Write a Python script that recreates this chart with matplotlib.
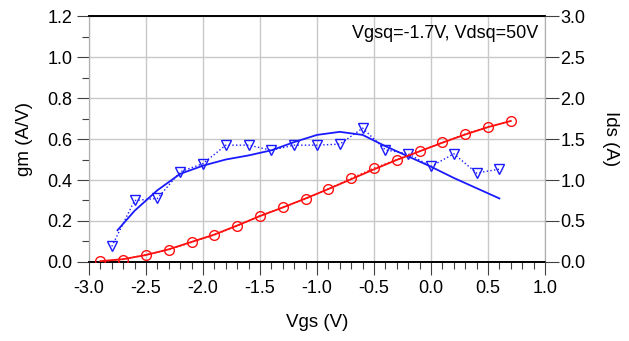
import matplotlib
matplotlib.use("Agg")
import matplotlib.pyplot as plt
from matplotlib.ticker import MultipleLocator

plt.rcParams['font.family'] = ['Liberation Sans', 'DejaVu Sans']

# Drain current (A), measured and simulated
vgs_ids = [-2.9, -2.7, -2.5, -2.3, -2.1, -1.9, -1.7, -1.5, -1.3, -1.1,
           -0.9, -0.7, -0.5, -0.3, -0.1, 0.1, 0.3, 0.5, 0.7]
ids_meas = [0.008, 0.03, 0.09, 0.15, 0.24, 0.33, 0.44, 0.565, 0.665, 0.77,
            0.89, 1.02, 1.145, 1.25, 1.35, 1.46, 1.56, 1.65, 1.72]
ids_sim = [0.01, 0.035, 0.085, 0.155, 0.245, 0.335, 0.445, 0.56, 0.665, 0.775,
           0.89, 1.01, 1.13, 1.245, 1.35, 1.455, 1.555, 1.645, 1.72]

# Transconductance (A/V), measured
vgs_gm_meas = [-2.8, -2.6, -2.4, -2.2, -2.0, -1.8, -1.6, -1.4, -1.2, -1.0,
               -0.8, -0.6, -0.4, -0.2, 0.0, 0.2, 0.4, 0.6]
gm_meas = [0.076, 0.30, 0.31, 0.44, 0.48, 0.57, 0.57, 0.545, 0.57, 0.57,
           0.575, 0.653, 0.547, 0.528, 0.466, 0.528, 0.434, 0.453]

# Transconductance (A/V), simulated
vgs_gm_sim = [-2.75, -2.6, -2.4, -2.2, -2.0, -1.8, -1.6, -1.4, -1.2, -1.0,
              -0.8, -0.6, -0.4, -0.2, 0.0, 0.2, 0.4, 0.6]
gm_sim = [0.155, 0.25, 0.35, 0.43, 0.47, 0.50, 0.52, 0.545, 0.585, 0.62,
          0.635, 0.62, 0.565, 0.515, 0.465, 0.41, 0.36, 0.31]

annotation = "Vgsq=-1.7V, Vdsq=50V"

fig = plt.figure(figsize=(6.29, 3.41), dpi=100)
ax = fig.add_axes([0.1415, 0.2317, 0.725, 0.7213])
ax2 = ax.twinx()

red = '#ff1010'
blue = '#1a1aff'

# gm on the left axis
ax.plot(vgs_gm_sim, gm_sim, '-', color=blue, lw=1.3, zorder=3)
ax.plot(vgs_gm_meas, gm_meas, ':', color=blue, lw=1.0, marker='v', ms=7,
        mfc='none', mec=blue, mew=1.0, zorder=3)

# Ids on the right axis
ax2.plot(vgs_ids, ids_sim, '-', color=red, lw=1.3, zorder=3)
ax2.plot(vgs_ids, ids_meas, ':', color=red, lw=1.0, marker='o', ms=7,
         mfc='none', mec=red, mew=1.0, zorder=3)

ax.set_xlim(-3.0, 1.0)
ax.set_ylim(0, 1.2)
ax2.set_ylim(0, 3.0)

ax.xaxis.set_major_locator(MultipleLocator(0.5))
ax.xaxis.set_minor_locator(MultipleLocator(0.1))
ax.yaxis.set_major_locator(MultipleLocator(0.2))
ax.yaxis.set_minor_locator(MultipleLocator(0.1))
ax2.yaxis.set_major_locator(MultipleLocator(0.5))

ax.set_xticks([-3.0, -2.5, -2.0, -1.5, -1.0, -0.5, 0.0, 0.5, 1.0])
ax.set_xticklabels(['-3.0', '-2.5', '-2.0', '-1.5', '-1.0', '-0.5', '0.0', '0.5', '1.0'])
ax.set_yticks([0.0, 0.2, 0.4, 0.6, 0.8, 1.0, 1.2])
ax.set_yticklabels(['0.0', '0.2', '0.4', '0.6', '0.8', '1.0', '1.2'])
ax2.set_yticks([0.0, 0.5, 1.0, 1.5, 2.0, 2.5, 3.0])
ax2.set_yticklabels(['0.0', '0.5', '1.0', '1.5', '2.0', '2.5', '3.0'])

ax.grid(True, which='major', color='#c8c8c8', lw=1.0)
ax.set_axisbelow(True)

ax.tick_params(axis='x', which='major', direction='out', length=9,
               width=0.8, pad=4, labelsize=13, color='#404040')
ax.tick_params(axis='y', which='major', direction='out', length=9,
               width=0.8, pad=3, labelsize=13, color='#404040')
ax.tick_params(axis='both', which='minor', direction='out', length=5,
               width=0.8, color='#404040')
ax2.tick_params(axis='y', which='major', direction='out', length=10,
                width=0.8, pad=1, labelsize=13, color='#404040')

for sp in ['left', 'right']:
    ax.spines[sp].set_color('#b0b0b0')
    ax2.spines[sp].set_color('#b0b0b0')
for sp in ['top', 'bottom']:
    ax.spines[sp].set_color('black')
    ax.spines[sp].set_linewidth(1.2)
    ax2.spines[sp].set_color('black')
    ax2.spines[sp].set_linewidth(1.2)

ax.set_xlabel('Vgs (V)', fontsize=13.5, labelpad=12)
ax.set_ylabel('gm (A/V)', fontsize=13.5, labelpad=10)
ax2.set_ylabel('Ids (A)', fontsize=13.5, rotation=270, labelpad=24)

ax.text(0.985, 0.965, annotation, transform=ax.transAxes, ha='right',
        va='top', fontsize=13)

fig.savefig('out.png', dpi=100)
